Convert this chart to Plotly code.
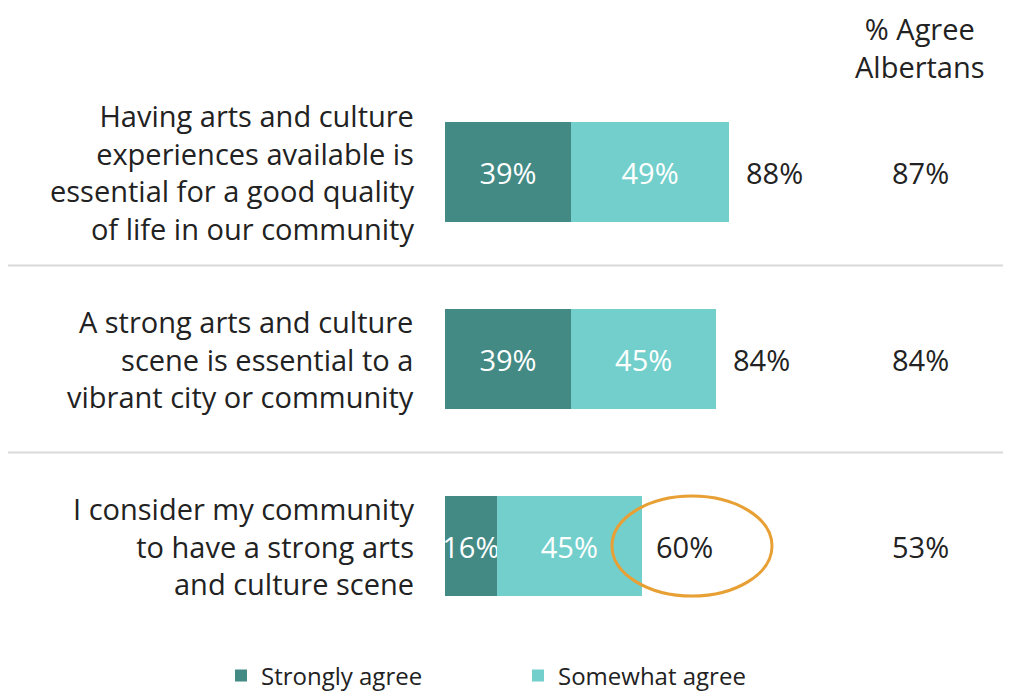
import plotly.graph_objects as go

categories = [
    "Having arts and culture<br>experiences available is<br>essential for a good quality<br>of life in our community",
    "A strong arts and culture<br>scene is essential to a<br>vibrant city or community",
    "I consider my community<br>to have a strong arts<br>and culture scene",
]
strongly = [39, 39, 16]
somewhat = [49, 45, 45]
totals = [88, 84, 60]
albertans = [87, 84, 53]
header = "% Agree<br>Albertans"

DARK = "#438A85"
LIGHT = "#72CFCB"
TXT = "#222222"
FONT = "Open Sans"
FS = 29

OFF = 8  # page body margin
W, H = 1018 - OFF, 693 - OFF
L = 445 - OFF
PXPER = 3.23
xmax = (W - L) / PXPER
ypos = list(range(len(categories)))
Y0PX, YSTEP = 172 - OFF, 187
ytop = -Y0PX / YSTEP
ybot = (H - Y0PX) / YSTEP


def px_to_paper_x(refx):
    return (refx - OFF - L) / (W - L)


fig = go.Figure()
fig.add_trace(go.Bar(
    y=ypos, x=strongly, orientation="h", name="Strongly agree", legend="legend",
    marker=dict(color=DARK, line=dict(width=0)), width=0.535,
    text=[f"{v}%" for v in strongly], textposition="inside", textangle=0,
    insidetextanchor="middle", constraintext="none",
    textfont=dict(color="white", size=FS, family=FONT), hoverinfo="skip",
))
fig.add_trace(go.Bar(
    y=ypos, x=somewhat, orientation="h", name="Somewhat agree", legend="legend2",
    marker=dict(color=LIGHT, line=dict(width=0)), width=0.535,
    text=[f"{v}%" for v in somewhat], textposition="inside", textangle=0,
    insidetextanchor="middle", constraintext="none",
    textfont=dict(color="white", size=FS, family=FONT), hoverinfo="skip",
))

annotations = []
for i, (c, t, a) in enumerate(zip(categories, totals, albertans)):
    annotations.append(dict(
        x=px_to_paper_x(416), xref="paper", y=i, yref="y", text=c,
        xanchor="right", yanchor="middle", align="right", showarrow=False,
        font=dict(size=FS, color=TXT, family=FONT),
    ))
    annotations.append(dict(
        x=t, xref="x", y=i, yref="y", text=f"{t}%", xanchor="left",
        xshift=15, showarrow=False, font=dict(size=FS, color=TXT, family=FONT),
    ))
    annotations.append(dict(
        x=px_to_paper_x(920), xref="paper", y=i, yref="y", text=f"{a}%",
        xanchor="center", showarrow=False, font=dict(size=FS, color=TXT, family=FONT),
    ))
annotations.append(dict(
    x=px_to_paper_x(920), xref="paper", y=1, yref="paper",
    text=header, xanchor="center", yanchor="top", borderpad=0,
    showarrow=False, font=dict(size=FS, color=TXT, family=FONT),
))

shapes = []
for yb in [0.5, 1.5]:
    shapes.append(dict(
        type="line", xref="paper", yref="y",
        x0=px_to_paper_x(0), x1=px_to_paper_x(1003), y0=yb, y1=yb,
        line=dict(color="#D9D9D9", width=2),
    ))
shapes.append(dict(
    type="circle", xref="x", yref="y",
    x0=(612 - 445) / PXPER, x1=(772 - 445) / PXPER,
    y0=2 - 50 / YSTEP, y1=2 + 50 / YSTEP,
    line=dict(color="#E8A035", width=3),
))

leg_common = dict(
    orientation="h", xref="container", yref="container",
    xanchor="left", y=(H - (676 - OFF)) / H, yanchor="middle",
    font=dict(size=24, color=TXT, family=FONT), itemwidth=30,
    bgcolor="rgba(0,0,0,0)",
)

fig.update_layout(
    width=W, height=H, barmode="stack",
    margin=dict(l=L, r=0, t=0, b=0, autoexpand=False),
    plot_bgcolor="white", paper_bgcolor="white",
    xaxis=dict(range=[0, xmax], visible=False, fixedrange=True),
    yaxis=dict(range=[ybot, ytop], visible=False, fixedrange=True),
    showlegend=True,
    legend=dict(x=(221 - OFF) / W, **leg_common),
    legend2=dict(x=(518 - OFF) / W, **leg_common),
    annotations=annotations, shapes=shapes,
    font=dict(family=FONT),
)

fig.write_html("out.html")
